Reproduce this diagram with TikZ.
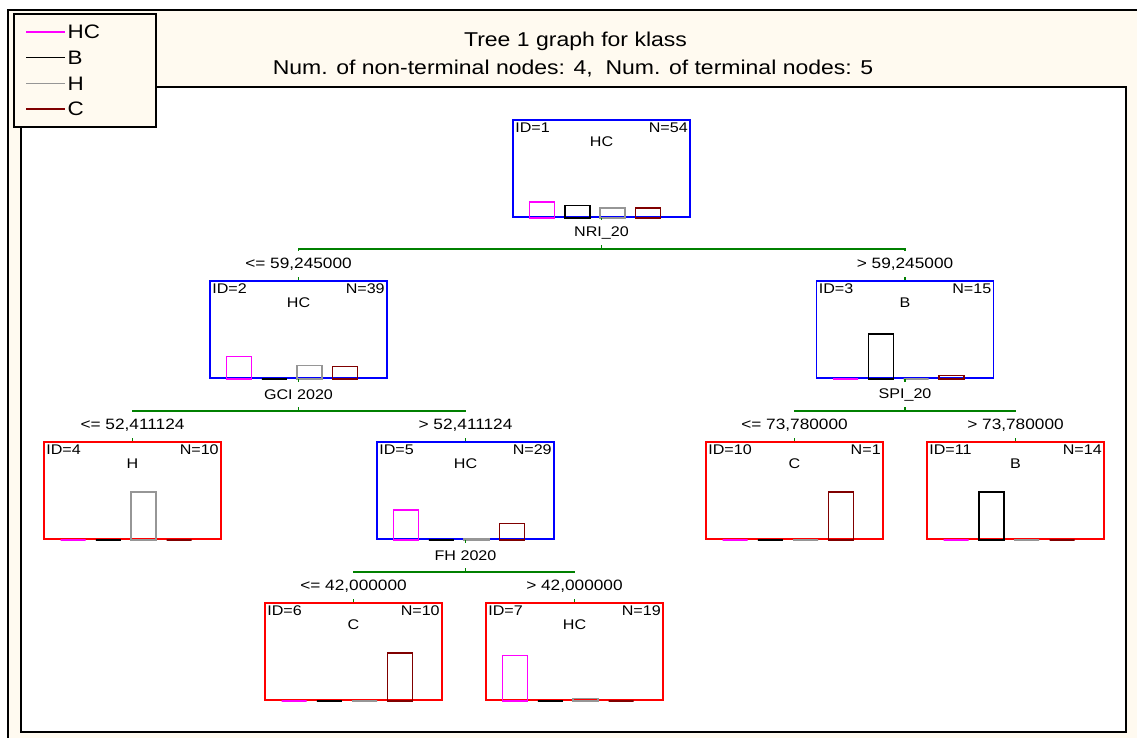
\documentclass[tikz,border=0pt]{standalone}
\usepackage{fontspec}
\setmainfont{Liberation Sans}[FakeStretch=1.15]
\usetikzlibrary{calc}
\definecolor{cream}{RGB}{255,250,240}
\definecolor{bar1}{RGB}{255,0,255}
\definecolor{bar2}{RGB}{0,0,0}
\definecolor{bar3}{RGB}{150,150,150}
\definecolor{bar4}{RGB}{128,0,0}
\definecolor{splitgreen}{RGB}{0,128,0}
\definecolor{leafred}{RGB}{255,0,0}
\definecolor{splitblue}{RGB}{0,0,255}

\tikzset{
  treebox/.style={draw=#1, minimum width=177, minimum height=97, inner sep=0, line width=1.8, fill=white},
  nodetxt/.style={font=\fontsize{14}{16}\selectfont, inner sep=1},
  varlab/.style={font=\fontsize{14}{16}\selectfont, fill=white, inner sep=1, minimum height=25},
  cutlab/.style={font=\fontsize{15}{17}\selectfont, fill=white, inner sep=1, minimum height=26},
  split/.style={draw=splitgreen, line width=1.6},
}

% one tree node: name, x, y, colour, id, N, class, counts HC/B/H/C
\newcommand{\treenode}[8]{%
  \node[treebox=#4] (#1) at (#2,#3) {};
  \node[nodetxt, anchor=west] at ($(#1.north west)+(2,9)$) {ID=#5};
  \node[nodetxt, anchor=east] at ($(#1.north east)+(-2,9)$) {N=#6};
  \node[nodetxt] at ($(#1.north)+(0,23)$) {#7};
  \foreach \cnt [count=\i] in {#8} {
    \pgfmathsetmacro\off{17.5+35.3*(\i-1)}
    \pgfmathsetmacro\hgt{\cnt/#6*48}
    \draw[bar\i, line width=1.5] ($(#1.south west)+(\off,0)$) rectangle ++(25,-\hgt);
  }
}

\begin{document}
\begin{tikzpicture}[x=1pt, y=-1pt]
  \useasboundingbox (0,0) rectangle (1137,738);
  \clip (0,0) rectangle (1137,738);

  % frame and plot area
  \draw[line width=2, fill=cream] (8,10) rectangle (1150,750);
  \draw[line width=1.5, fill=white] (21,87) rectangle (1126,732);

  % title
  \node[font=\fontsize{20}{22}\selectfont] (title) at (575.5,41) {Tree 1 graph for klass};
  \node[font=\fontsize{20}{22}\selectfont] (subtitle) at (573,69) {Num. of non-terminal nodes: 4, \ Num. of terminal nodes: 5};

  % legend
  \draw[line width=2.5, fill=cream] (14,14) rectangle (156,127);
  \foreach \lab [count=\i] in {HC,B,H,C} {
    \pgfmathsetmacro\ly{32+25.7*(\i-1)}
    \draw[bar\i, line width=1.2] (26,\ly) -- (65,\ly)
      node[right, inner sep=2, text=black, font=\fontsize{19.5}{21}\selectfont] {\lab};
  }

  % nodes
  \treenode{n1}{601.5}{168.5}{splitblue}{1}{54}{HC}{18,14,11,11}
  \treenode{n2}{298.5}{329.5}{splitblue}{2}{39}{HC}{18,0,11,10}
  \treenode{n3}{905}{329.5}{splitblue}{3}{15}{B}{0,14,0,1}
  \treenode{n4}{132.5}{490.5}{leafred}{4}{10}{H}{0,0,10,0}
  \treenode{n5}{465.5}{490.5}{splitblue}{5}{29}{HC}{18,0,1,10}
  \treenode{n10}{794.5}{490.5}{leafred}{10}{1}{C}{0,0,0,1}
  \treenode{n11}{1015.5}{490.5}{leafred}{11}{14}{B}{0,14,0,0}
  \treenode{n6}{353.5}{651.5}{leafred}{6}{10}{C}{0,0,0,10}
  \treenode{n7}{574.5}{651.5}{leafred}{7}{19}{HC}{18,0,1,0}

  % splits
  \draw[split] (n1.south) -- ++(0,31) coordinate (s1);
  \draw[split] (n2.north) |- (s1) -| (n3.north);
  \draw[split] (n2.south) -- ++(0,32) coordinate (s2);
  \draw[split] (n4.north) |- (s2) -| (n5.north);
  \draw[split] (n3.south) -- ++(0,32) coordinate (s3);
  \draw[split] (n10.north) |- (s3) -| (n11.north);
  \draw[split] (n5.south) -- ++(0,32) coordinate (s5);
  \draw[split] (n6.north) |- (s5) -| (n7.north);

  % split labels
  \node[varlab] at ($(n1.south)+(0,15)$) {NRI\_20};
  \node[cutlab] at ($(n2.north)+(0,-16)$) {<= 59,245000};
  \node[cutlab] at ($(n3.north)+(0,-16)$) {> 59,245000};
  \node[varlab] at ($(n2.south)+(0,16)$) {GCI 2020};
  \node[cutlab] at ($(n4.north)+(0,-16)$) {<= 52,411124};
  \node[cutlab] at ($(n5.north)+(0,-16)$) {> 52,411124};
  \node[varlab] at ($(n3.south)+(0,16)$) {SPI\_20};
  \node[cutlab] at ($(n10.north)+(0,-16)$) {<= 73,780000};
  \node[cutlab] at ($(n11.north)+(0,-16)$) {> 73,780000};
  \node[varlab] at ($(n5.south)+(0,16)$) {FH 2020};
  \node[cutlab] at ($(n6.north)+(0,-16)$) {<= 42,000000};
  \node[cutlab] at ($(n7.north)+(0,-16)$) {> 42,000000};
\end{tikzpicture}
\end{document}
